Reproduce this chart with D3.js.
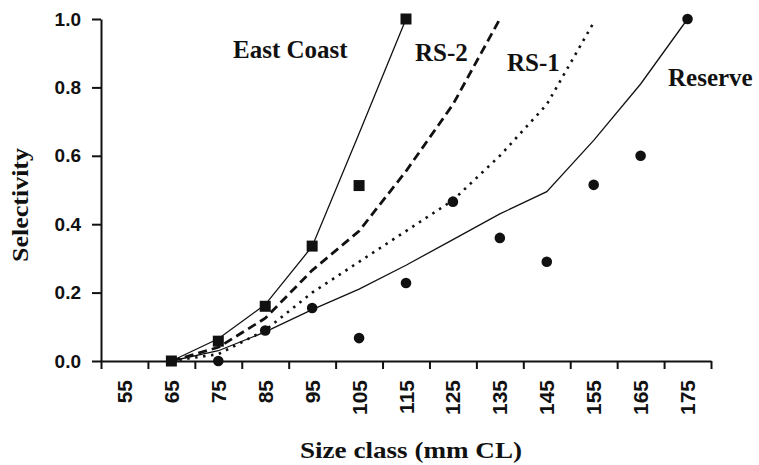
<!DOCTYPE html>
<html>
<head>
<meta charset="utf-8">
<script src="https://cdn.jsdelivr.net/npm/d3@7"></script>
<style>
  body { margin: 0; background: #fff; }
  svg { display: block; }
</style>
</head>
<body>
<div id="chart"></div>
<script>
// size classes (mm CL)
var sizeClasses = [55, 65, 75, 85, 95, 105, 115, 125, 135, 145, 155, 165, 175];
var yTicks = [0, 0.2, 0.4, 0.6, 0.8, 1.0];

// fitted selectivity curves
var eastCoastClasses = [65, 75, 85, 95, 105, 115];
var eastCoastFit = [0, 0.065, 0.165, 0.335, 0.665, 1.0];
var rs2Classes = [65, 75, 85, 95, 105, 115, 125, 135];
var rs2Fit = [0, 0.04, 0.125, 0.265, 0.38, 0.555, 0.75, 1.0];
var rs1Classes = [65, 75, 85, 95, 105, 115, 125, 135, 145, 155];
var rs1Fit = [0, 0.02, 0.09, 0.2, 0.29, 0.38, 0.47, 0.6, 0.75, 0.99];
var reserveClasses = [65, 75, 85, 95, 105, 115, 125, 135, 145, 155, 165, 175];
var reserveFit = [0, 0.03, 0.085, 0.15, 0.21, 0.28, 0.355, 0.43, 0.495, 0.645, 0.81, 1.0];

// observed values
var eastCoastObsClasses = [65, 75, 85, 95, 105, 115];
var eastCoastObs = [0, 0.058, 0.16, 0.336, 0.513, 1.0];
var reserveObsClasses = [75, 85, 95, 105, 115, 125, 135, 145, 155, 165, 175];
var reserveObs = [0, 0.089, 0.155, 0.067, 0.228, 0.466, 0.36, 0.29, 0.515, 0.6, 1.0];

var seriesLabels = ["East Coast", "RS-2", "RS-1", "Reserve"];

var width = 759, height = 465;
var plotLeft = 101, plotRight = 711, plotTop = 19, plotBottom = 361;

var svg = d3.select("#chart").append("svg")
    .attr("width", width)
    .attr("height", height);

var x = d3.scaleBand()
    .domain(sizeClasses)
    .range([plotLeft, plotRight]);

var xEdge = d3.scaleLinear()
    .domain([0, sizeClasses.length])
    .range([plotLeft, plotRight]);

var y = d3.scaleLinear()
    .domain([0, 1])
    .range([plotBottom, plotTop]);

function cx(c) { return x(c) + x.bandwidth() / 2; }

/**
 * Axes
 */
var yAxis = svg.append("g")
    .attr("transform", "translate(" + plotLeft + ",0)")
    .call(d3.axisLeft(y).tickValues(yTicks).tickSize(9).tickSizeOuter(0).tickPadding(11)
      .tickFormat(d3.format(".1f")));

yAxis.selectAll("text")
    .style("font-family", "'Liberation Sans', Arial, sans-serif")
    .style("font-weight", "bold")
    .style("font-size", "19px")
    .attr("fill", "#111");

// tick marks sit between the size classes
var xTickAxis = svg.append("g")
    .attr("transform", "translate(0," + plotBottom + ")")
    .call(d3.axisBottom(xEdge).tickValues(d3.range(sizeClasses.length + 1))
      .tickSize(8).tickSizeOuter(0).tickFormat(""));

var xLabelAxis = svg.append("g")
    .attr("transform", "translate(0," + plotBottom + ")")
    .call(d3.axisBottom(x).tickSize(0).tickSizeOuter(0));
xLabelAxis.select(".domain").remove();

xLabelAxis.selectAll("text")
    .attr("transform", "rotate(-90)")
    .attr("x", -19)
    .attr("y", 0)
    .attr("dy", "0.36em")
    .attr("text-anchor", "end")
    .style("font-family", "'Liberation Sans', Arial, sans-serif")
    .style("font-weight", "bold")
    .style("font-size", "21px")
    .attr("fill", "#111");

svg.selectAll(".domain, .tick line")
    .attr("stroke", "#111")
    .attr("stroke-width", 2);

/**
 * Fitted curves
 */
var line = d3.line()
    .x(function(d) { return cx(d[0]); })
    .y(function(d) { return y(d[1]); });

var curves = [
  { cls: eastCoastClasses, vals: eastCoastFit, w: 1.3, dash: null },
  { cls: rs2Classes, vals: rs2Fit, w: 2.8, dash: "9,5" },
  { cls: rs1Classes, vals: rs1Fit, w: 2.6, dash: "2.5,5.5" },
  { cls: reserveClasses, vals: reserveFit, w: 1.3, dash: null }
];

svg.selectAll("path.curve")
    .data(curves)
  .enter().append("path")
    .attr("class", "curve")
    .attr("fill", "none")
    .attr("stroke", "#111")
    .attr("stroke-width", function(d) { return d.w; })
    .attr("stroke-dasharray", function(d) { return d.dash; })
    .attr("d", function(d) { return line(d3.zip(d.cls, d.vals)); });

/**
 * Observed points
 */
svg.selectAll("circle.obs")
    .data(d3.zip(reserveObsClasses, reserveObs))
  .enter().append("circle")
    .attr("class", "obs")
    .attr("cx", function(d) { return cx(d[0]); })
    .attr("cy", function(d) { return y(d[1]); })
    .attr("r", 5.3)
    .attr("fill", "#111");

var sq = 11;
svg.selectAll("rect.obs")
    .data(d3.zip(eastCoastObsClasses, eastCoastObs))
  .enter().append("rect")
    .attr("class", "obs")
    .attr("x", function(d) { return cx(d[0]) - sq / 2; })
    .attr("y", function(d) { return y(d[1]) - sq / 2; })
    .attr("width", sq)
    .attr("height", sq)
    .attr("fill", "#111");

/**
 * Labels
 */
var serif = "'Liberation Serif', 'Times New Roman', serif";
var labelPos = [[233, 58], [415, 61], [507, 71], [668, 86]];

svg.selectAll("text.series")
    .data(seriesLabels)
  .enter().append("text")
    .attr("class", "series")
    .attr("x", function(d, i) { return labelPos[i][0]; })
    .attr("y", function(d, i) { return labelPos[i][1]; })
    .style("font-family", serif)
    .style("font-weight", "bold")
    .style("font-size", "25px")
    .attr("fill", "#111")
    .text(function(d) { return d; });

svg.append("text")
    .attr("transform", "translate(28,205) rotate(-90)")
    .attr("text-anchor", "middle")
    .attr("textLength", 114)
    .attr("lengthAdjust", "spacingAndGlyphs")
    .style("font-family", serif)
    .style("font-weight", "bold")
    .style("font-size", "24px")
    .attr("fill", "#111")
    .text("Selectivity");

svg.append("text")
    .attr("x", 411)
    .attr("y", 458)
    .attr("text-anchor", "middle")
    .attr("textLength", 222)
    .attr("lengthAdjust", "spacingAndGlyphs")
    .style("font-family", serif)
    .style("font-weight", "bold")
    .style("font-size", "24px")
    .attr("fill", "#111")
    .text("Size class (mm CL)");
</script>
</body>
</html>
